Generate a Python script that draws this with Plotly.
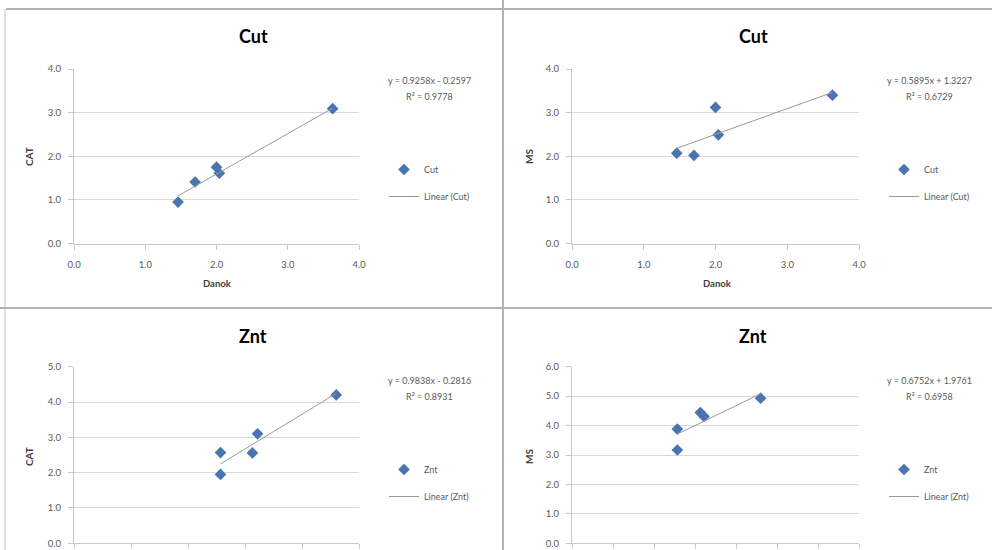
import plotly.graph_objects as go

W, H = 992, 550

# ---- data ----
danok_cut = [1.46, 1.70, 2.00, 2.04, 3.63]
cat_cut = [0.95, 1.41, 1.75, 1.61, 3.09]
ms_cut = [2.07, 2.02, 3.12, 2.49, 3.40]

danok_znt = [2.57, 2.57, 3.13, 3.22, 4.60]
cat_znt = [2.57, 1.95, 2.56, 3.10, 4.20]
ms_znt = [3.88, 3.17, 4.44, 4.31, 4.93]

# trendline coefficients (slope, intercept) as printed on the chart
fit_cat_cut = [0.9258, -0.2597]
fit_ms_cut = [0.5895, 1.3227]
fit_cat_znt = [0.9838, -0.2816]
fit_ms_znt = [0.6752, 1.9761]

eq_texts = [
    ("y = 0.9258x - 0.2597", "R² = 0.9778"),
    ("y = 0.5895x + 1.3227", "R² = 0.6729"),
    ("y = 0.9838x - 0.2816", "R² = 0.8931"),
    ("y = 0.6752x + 1.9761", "R² = 0.6958"),
]
titles = ["Cut", "Cut", "Znt", "Znt"]
ytitles = ["CAT", "MS", "CAT", "MS"]
xtitle = "Danok"
series_names = ["Cut", "Cut", "Znt", "Znt"]
x_ranges = [[0, 4], [0, 4], [0, 5], [0, 7]]
y_ranges = [[0, 4], [0, 4], [0, 5], [0, 6]]

panels = [
    (danok_cut, cat_cut, fit_cat_cut),
    (danok_cut, ms_cut, fit_ms_cut),
    (danok_znt, cat_znt, fit_cat_znt),
    (danok_znt, ms_znt, fit_ms_znt),
]

# ---- layout geometry (pixels) ----
# plot areas: (x0, x1, ytop, ybottom)
areas = [
    (74, 359, 69, 243.5),
    (572, 859, 69, 243.5),
    (74, 359, 366.7, 543.3),
    (572, 859, 366.7, 543.3),
]
# panel origins for text placement
offsets = [(0, 0), (500, 0), (0, 300), (500, 300)]

BLUE = "#4A74B0"
TREND = "#9a9a9a"
FONT = "Lato"
TICKC = "#595959"

fig = go.Figure()
annotations = []
shapes = []

def px(x):
    return x / W

def py(y):
    return 1 - y / H

for i, ((xs, ys, fit), (x0, x1, yt, yb)) in enumerate(zip(panels, areas)):
    sfx = "" if i == 0 else str(i + 1)
    xa, ya = "x" + sfx, "y" + sfx
    leg = "legend" if i == 0 else "legend" + str(i + 1)
    fig.add_trace(go.Scatter(
        x=xs, y=ys, mode="markers", name=series_names[i],
        marker=dict(symbol="diamond", size=9, color=BLUE),
        xaxis=xa, yaxis=ya, legend=leg, legendgroup="a%d" % i,
    ))
    xmin, xmax = min(xs), max(xs)
    fig.add_trace(go.Scatter(
        x=[xmin, xmax], y=[fit[0] * xmin + fit[1], fit[0] * xmax + fit[1]],
        mode="lines", name="Linear (%s)" % series_names[i],
        line=dict(color=TREND, width=1),
        xaxis=xa, yaxis=ya, legend=leg, legendgroup="b%d" % i,
    ))
    axis_common = dict(
        showline=True, linecolor="#c8c8c8", linewidth=1,
        ticks="outside", ticklen=5, tickcolor="#c8c8c8",
        tickfont=dict(family=FONT, size=9.5, color=TICKC),
        tickformat=".1f", dtick=1, zeroline=False, automargin=False,
    )
    fig.layout["xaxis" + sfx] = dict(
        domain=[px(x0), px(x1)], anchor=ya, range=x_ranges[i],
        showgrid=False, ticklabelstandoff=7, **axis_common)
    fig.layout["yaxis" + sfx] = dict(
        domain=[py(yb), py(yt)], anchor=xa, range=y_ranges[i],
        showgrid=True, gridcolor="#d9d9d9", gridwidth=1,
        ticklabelstandoff=5, **axis_common)

    ox, oy = offsets[i]
    # chart title
    annotations.append(dict(
        x=px(ox + 253), y=py(oy + 36), xref="paper", yref="paper",
        text="<b>%s</b>" % titles[i], showarrow=False,
        font=dict(family=FONT, size=18, color="#000000"),
        xanchor="center", yanchor="middle"))
    # axis titles
    if i < 2:
        annotations.append(dict(
            x=px(ox + 217), y=py(oy + 283), xref="paper", yref="paper",
            text="<b>%s</b>" % xtitle, showarrow=False,
            font=dict(family=FONT, size=9.5, color="#404040"),
            xanchor="center", yanchor="middle"))
    annotations.append(dict(
        x=px(ox + 29), y=py(oy + 157), xref="paper", yref="paper",
        text="<b>%s</b>" % ytitles[i], showarrow=False, textangle=-90,
        font=dict(family=FONT, size=10, color="#404040"),
        xanchor="center", yanchor="middle"))
    # equation (two lines)
    for k, ly in enumerate((80, 96)):
        annotations.append(dict(
            x=px(ox + 429), y=py(oy + ly), xref="paper", yref="paper",
            text=eq_texts[i][k], showarrow=False,
            font=dict(family=FONT, size=9, color="#595959"), align="center",
            xanchor="center", yanchor="middle"))
    # legend
    fig.layout[leg] = dict(
        x=px(ox + 384), y=py(oy + 155), xanchor="left", yanchor="top",
        bgcolor="rgba(0,0,0,0)", font=dict(family=FONT, size=9, color="#595959"),
        tracegroupgap=8, itemwidth=30,
    )

# panel borders
BORDER = "#b3b3b3"
shapes += [
    dict(type="line", xref="paper", yref="paper", x0=px(6), x1=1, y0=py(9), y1=py(9),
         line=dict(color=BORDER, width=2)),
    dict(type="line", xref="paper", yref="paper", x0=px(5), x1=px(5), y0=py(9), y1=0,
         line=dict(color="#e0e0e0", width=2)),
    dict(type="line", xref="paper", yref="paper", x0=px(503), x1=px(503), y0=1, y1=0,
         line=dict(color=BORDER, width=2)),
    dict(type="line", xref="paper", yref="paper", x0=0, x1=1, y0=py(308), y1=py(308),
         line=dict(color=BORDER, width=2)),
]

fig.update_layout(
    width=W, height=H,
    margin=dict(l=0, r=0, t=0, b=0, pad=0, autoexpand=False),
    paper_bgcolor="white", plot_bgcolor="white",
    annotations=annotations, shapes=shapes, showlegend=True,
    font=dict(family=FONT),
)

fig.write_html(
    "out.html",
    config={"displayModeBar": False},
    post_script="document.body.style.margin='0';document.body.style.overflow='hidden';",
)
